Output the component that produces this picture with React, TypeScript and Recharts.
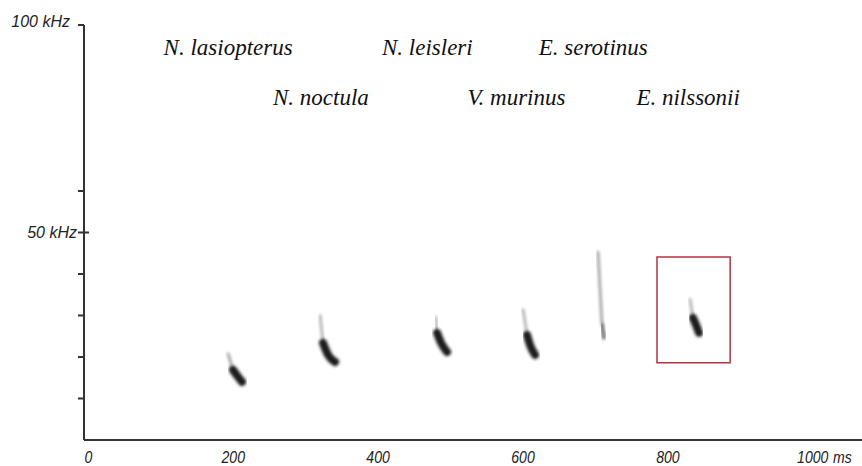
import React from "react";
import {
  ComposedChart,
  Line,
  Scatter,
  XAxis,
  YAxis,
  ReferenceArea,
} from "recharts";

// Time ticks (ms) and frequency ticks (kHz)
const timeTicks = [0, 200, 400, 600, 800, 1000];
const timeUnit = "ms";
const freqTicks = [10, 20, 30, 40, 50, 60, 100];
const freqLabels: Record<number, string> = { 50: "50 kHz", 100: "100 kHz" };

// Species labels (centre time in ms, height in kHz)
const speciesNames = [
  "N. lasiopterus",
  "N. leisleri",
  "E. serotinus",
  "N. noctula",
  "V. murinus",
  "E. nilssonii",
];
const speciesTime = [193, 468, 697, 321, 591, 828];
const speciesFreq = [94.5, 94.5, 94.5, 82.5, 82.5, 82.5];

// Faint upper part of each call (ms, kHz)
const callTails = [
  [{ x: 192.9, y: 20.8 }, { x: 199.7, y: 16.9 }],
  [{ x: 319.9, y: 30.0 }, { x: 324.0, y: 23.4 }],
  [{ x: 480.0, y: 29.6 }, { x: 481.4, y: 25.8 }],
  [{ x: 600.1, y: 31.5 }, { x: 605.6, y: 25.3 }],
  [{ x: 703.6, y: 45.3 }, { x: 709.1, y: 27.7 }],
  [{ x: 830.6, y: 33.9 }, { x: 834.7, y: 29.4 }],
];
// Dark lower part of each call (ms, kHz)
const callBlobs = [
  [{ x: 199.7, y: 16.9 }, { x: 206.7, y: 15.2 }, { x: 212.2, y: 14.0 }],
  [{ x: 324.0, y: 23.4 }, { x: 330.9, y: 20.5 }, { x: 340.6, y: 18.8 }],
  [{ x: 481.4, y: 25.8 }, { x: 486.9, y: 23.4 }, { x: 495.2, y: 21.2 }],
  [{ x: 605.6, y: 25.3 }, { x: 609.7, y: 22.9 }, { x: 616.7, y: 20.5 }],
  [{ x: 709.1, y: 27.7 }, { x: 711.9, y: 24.6 }],
  [{ x: 834.7, y: 29.4 }, { x: 838.9, y: 27.7 }, { x: 843.0, y: 25.8 }],
];
const blobColors = ["#1a1a1a", "#1a1a1a", "#1a1a1a", "#1a1a1a", "#666", "#1a1a1a"];
const tailColors = ["#999", "#aaa", "#aaa", "#aaa", "#999", "#aaa"];

// Highlight box (ms, kHz)
const boxTime = [785, 886];
const boxFreq = [18.6, 44.1];

const speciesData = speciesNames.map((name, i) => ({
  name,
  x: speciesTime[i],
  y: speciesFreq[i],
}));

const SANS = "'Liberation Sans', Arial, sans-serif";
const SERIF = "'Liberation Serif', 'Times New Roman', serif";

const XTick = (props: any) => {
  const { x, y, payload } = props;
  const v = payload.value;
  const last = v === timeTicks[timeTicks.length - 1];
  return (
    <g transform={`translate(${x},${y + 9}) scale(0.88,1)`}>
      <text
        x={0}
        y={0}
        textAnchor="middle"
        dominantBaseline="central"
        style={{ fontFamily: SANS, fontStyle: "italic", fontSize: 16 }}
        fill="#222"
      >
        {v}
      </text>
      {last && (
        <text
          x={23}
          y={0}
          textAnchor="start"
          dominantBaseline="central"
          style={{ fontFamily: SANS, fontStyle: "italic", fontSize: 16 }}
          fill="#222"
        >
          {timeUnit}
        </text>
      )}
    </g>
  );
};

const YTick = (props: any) => {
  const { x, y, payload } = props;
  const v = payload.value;
  const label = freqLabels[v];
  const isTop = v === 100;
  return (
    <g>
      {v === 50 && <line x1={x + 8} x2={x + 13} y1={y} y2={y} stroke="#333" strokeWidth={2} />}
      {label && (
        <text
          x={isTop ? x - 6 : x + 1}
          y={isTop ? y - 4 : y}
          textAnchor="end"
          dominantBaseline="central"
          style={{ fontFamily: SANS, fontStyle: "italic", fontSize: 16 }}
          fill="#222"
        >
          {label}
        </text>
      )}
    </g>
  );
};

const SpeciesLabel = (props: any) => {
  const { cx, cy, payload } = props;
  return (
    <text
      x={cx}
      y={cy}
      textAnchor="middle"
      dominantBaseline="central"
      style={{ fontFamily: SERIF, fontStyle: "italic", fontSize: 23 }}
      fill="#111"
    >
      {payload.name}
    </text>
  );
};

export default function App() {
  return (
    <div style={{ position: "absolute", left: 0, top: 0, background: "#fff" }}>
      <ComposedChart
        width={862}
        height={466}
        margin={{ top: 25, right: 0, left: 0, bottom: 0 }}
      >
        <defs>
          <filter id="soft" x="-50%" y="-50%" width="200%" height="200%">
            <feGaussianBlur stdDeviation="1.4" />
          </filter>
        </defs>
        <XAxis
          type="number"
          dataKey="x"
          domain={[-6, 1068]}
          allowDataOverflow
          ticks={timeTicks}
          interval={0}
          tickLine={false}
          axisLine={{ stroke: "#333", strokeWidth: 2 }}
          height={26}
          tick={<XTick />}
        />
        <YAxis
          type="number"
          dataKey="y"
          domain={[0, 100]}
          allowDataOverflow
          ticks={freqTicks}
          interval={0}
          tickSize={6}
          tickLine={{ stroke: "#333", strokeWidth: 2 }}
          axisLine={{ stroke: "#333", strokeWidth: 2 }}
          width={84}
          tick={<YTick />}
        />
        {callTails.map((d, i) => (
          <Line
            key={"t" + i}
            data={d}
            dataKey="y"
            type="linear"
            stroke={tailColors[i]}
            strokeWidth={2.5}
            strokeLinecap="round"
            filter="url(#soft)"
            dot={false}
            activeDot={false}
            isAnimationActive={false}
          />
        ))}
        {callBlobs.map((d, i) => (
          <Line
            key={"b" + i}
            data={d}
            dataKey="y"
            type="monotone"
            stroke={blobColors[i]}
            strokeWidth={i === 4 ? 3.5 : 8}
            strokeLinecap="round"
            filter="url(#soft)"
            dot={false}
            activeDot={false}
            isAnimationActive={false}
          />
        ))}
        <ReferenceArea
          x1={boxTime[0]}
          x2={boxTime[1]}
          y1={boxFreq[0]}
          y2={boxFreq[1]}
          stroke="#b5323f"
          strokeWidth={1.5}
          fill="none"
          fillOpacity={0}
          ifOverflow="visible"
        />
        <Scatter
          data={speciesData}
          dataKey="y"
          shape={<SpeciesLabel />}
          isAnimationActive={false}
        />
      </ComposedChart>
    </div>
  );
}
